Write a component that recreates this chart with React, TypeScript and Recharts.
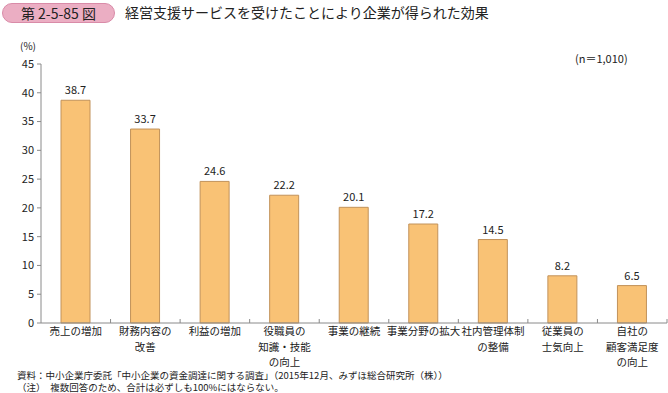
import { BarChart, Bar, XAxis, YAxis, LabelList } from 'recharts';

const categories = [
  '売上の増加',
  '財務内容の\n改善',
  '利益の増加',
  '役職員の\n知識・技能\nの向上',
  '事業の継続',
  '事業分野の拡大',
  '社内管理体制\nの整備',
  '従業員の\n士気向上',
  '自社の\n顧客満足度\nの向上',
];
const values = [38.7, 33.7, 24.6, 22.2, 20.1, 17.2, 14.5, 8.2, 6.5];
const yTicks = [0, 5, 10, 15, 20, 25, 30, 35, 40, 45];

const data = categories.map((name, i) => ({ name, value: values[i] }));

const FONT = '"Noto Sans CJK JP", "Noto Sans", sans-serif';
const W = 668;
const H = 393;
const LEFT = 41;
const RIGHT = 1;
const BAND = (W - LEFT - RIGHT) / categories.length;

function CategoryTick(props: any) {
  const { x, y, payload } = props;
  const lines = String(payload.value).split('\n');
  return (
    <g>
      <line x1={x + BAND / 2} x2={x + BAND / 2} y1={y} y2={y - 4} stroke="#8a8a8a" />
      <text x={x} y={y + 12} textAnchor="middle" fontSize={10.5} fill="#222" fontFamily={FONT}>
        {lines.map((l, i) => (
          <tspan key={i} x={x} dy={i === 0 ? 0 : 15.5}>
            {l}
          </tspan>
        ))}
      </text>
    </g>
  );
}

const footStyle = {
  position: 'absolute' as const, left: 17, fontSize: 9.5, lineHeight: '12px', height: 12,
  color: '#222', whiteSpace: 'nowrap' as const,
};

export default function App() {
  return (
    <div style={{ position: 'absolute', left: 0, top: 0, width: W, height: H, background: '#fff', fontFamily: FONT, overflow: 'hidden' }}>
      <div
        style={{
          position: 'absolute', left: 2, top: 3, width: 111, height: 18, borderRadius: 10,
          background: '#EBAEC3', border: '1px solid #D98BA8', color: '#222', fontSize: 14,
          lineHeight: '18px', textAlign: 'center',
        }}
      >
        第 2-5-85 図
      </div>
      <div style={{ position: 'absolute', left: 125, top: 3, fontSize: 14, lineHeight: '19px', color: '#222' }}>
        経営支援サービスを受けたことにより企業が得られた効果
      </div>
      <div style={{ position: 'absolute', left: 20, top: 38, fontSize: 10, color: '#222' }}>(%)</div>
      <div style={{ position: 'absolute', left: 575, top: 50, fontSize: 11, color: '#222' }}>(n＝1,010)</div>

      <BarChart
        width={W}
        height={H}
        data={data}
        margin={{ top: 64, right: RIGHT, left: 0, bottom: 20 }}
        barSize={29}
      >
        <YAxis
          width={LEFT}
          domain={[0, 45]}
          ticks={yTicks}
          interval={0}
          tickSize={4}
          tickMargin={3}
          tick={{ fontSize: 11, fill: '#222', fontFamily: FONT }}
          stroke="#8a8a8a"
        />
        <XAxis
          dataKey="name"
          height={50}
          interval={0}
          tickLine={false}
          tickSize={0}
          tickMargin={0}
          tick={<CategoryTick />}
          stroke="#8a8a8a"
        />
        <Bar dataKey="value" fill="#F9C275" stroke="#C2925A" strokeWidth={1} isAnimationActive={false}>
          <LabelList dataKey="value" position="top" offset={6} fontSize={11} fill="#222" fontFamily={FONT} formatter={(v: any) => Number(v).toFixed(1)} />
        </Bar>
      </BarChart>

      <div style={{ ...footStyle, top: 369 }}>
        資料：中小企業庁委託「中小企業の資金調達に関する調査」（2015年12月、みずほ総合研究所（株））
      </div>
      <div style={{ ...footStyle, top: 381 }}>
        （注）　複数回答のため、合計は必ずしも100%にはならない。
      </div>
    </div>
  );
}
